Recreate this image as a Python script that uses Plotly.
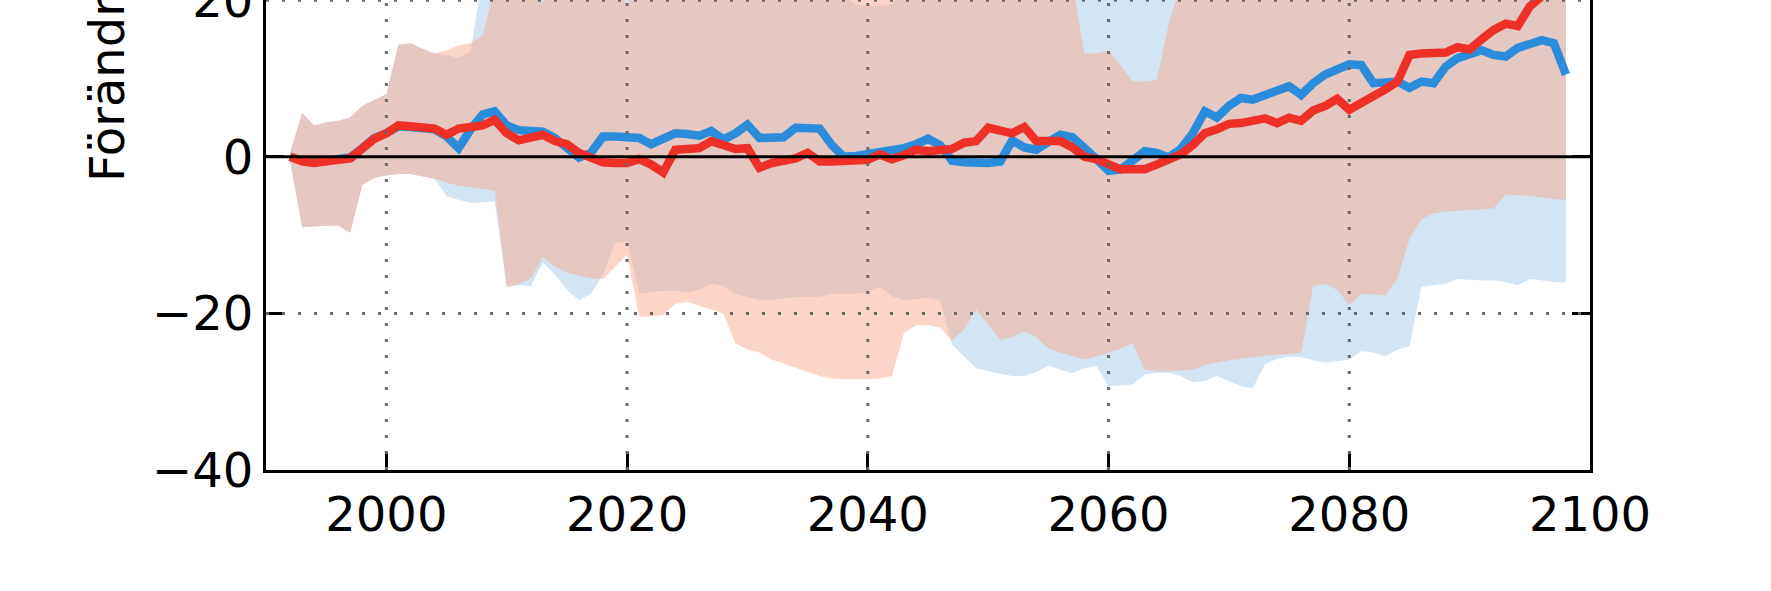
import plotly.graph_objects as go

years = list(range(1992, 2099))

red_mean = [
    0.0, -0.6, -0.8, -0.5, -0.4, -0.2, 1.0, 2.3, 3.0, 4.0,      # 1992-2001
    3.9, 3.8, 3.6, 2.8, 3.6, 3.8, 4.0, 4.7, 3.0, 2.1,           # 2002-2011
    2.5, 2.8, 2.0, 1.6, 0.5, -0.1, -0.7, -0.8, -0.8, -0.3,      # 2012-2021
    -1.0, -2.0, 0.9, 1.0, 1.1, 2.0, 1.5, 1.0, 1.1, -1.4,        # 2022-2031
    -0.8, -0.6, -0.2, 0.5, -0.6, -0.6, -0.6, -0.5, -0.4, 0.3,   # 2032-2041
    -0.3, 0.2, 0.9, 0.7, 0.8, 1.0, 1.8, 2.0, 3.7, 3.3,          # 2042-2051
    3.0, 3.8, 2.0, 2.0, 2.0, 1.2, 0.0, -0.3, -1.0, -1.6,        # 2052-2061
    -1.6, -1.6, -1.0, -0.2, 0.3, 1.5, 3.0, 3.5, 4.2, 4.3,       # 2062-2071
    4.5, 4.9, 4.3, 5.0, 4.6, 5.9, 6.5, 7.4, 6.0, 6.8,           # 2072-2081
    7.8, 8.6, 9.6, 13.0, 13.2, 13.2, 13.3, 14.0, 13.7, 15.0,    # 2082-2091
    16.2, 17.0, 16.7, 19.2, 20.5, 21.0, 21.0,                   # 2092-2098
]

blue_mean = [
    0.0, -0.5, -0.7, -0.5, -0.3, -0.1, 1.1, 2.4, 3.0, 3.9,      # 1992-2001
    3.8, 3.7, 3.5, 2.6, 1.1, 3.5, 5.4, 5.8, 4.0, 3.4,           # 2002-2011
    3.3, 3.2, 2.4, 1.2, -0.1, 0.5, 2.6, 2.6, 2.6, 2.4,          # 2012-2021
    1.6, 2.3, 3.0, 2.9, 2.7, 3.3, 2.2, 3.0, 4.1, 2.4,           # 2022-2031
    2.4, 2.5, 3.7, 3.7, 3.6, 1.5, 0.0, 0.1, 0.3, 0.5,           # 2032-2041
    0.7, 1.1, 1.6, 2.3, 1.5, -0.5, -0.7, -0.8, -0.8, -0.6,      # 2042-2051
    2.1, 1.2, 0.9, 1.9, 2.8, 2.5, 1.2, -0.3, -1.8, -1.6,        # 2052-2061
    -0.5, 0.7, 0.5, -0.1, 1.0, 3.0, 5.8, 5.0, 6.5, 7.5,         # 2062-2071
    7.3, 7.9, 8.5, 9.0, 7.9, 9.4, 10.5, 11.3, 11.8, 11.7,       # 2072-2081
    9.4, 9.5, 9.6, 8.8, 9.6, 9.4, 11.5, 12.6, 13.2, 13.6,       # 2082-2091
    13.0, 12.8, 13.9, 14.3, 14.9, 14.5, 10.5,                   # 2092-2098
]

red_low = [
    -0.5, -9.0, -8.9, -8.8, -8.8, -9.7, -3.6, -2.7, -2.4, -2.2,        # 1992-2001
    -2.2, -2.5, -2.8, -3.3, -3.7, -3.9, -4.1, -4.3, -16.6, -16.3,      # 2002-2011
    -15.5, -12.8, -14.0, -14.8, -15.2, -15.5, -15.6, -14.0, -12.5, -20.4,  # 2012-2021
    -20.4, -20.2, -18.8, -18.5, -19.0, -19.5, -20.0, -23.8, -24.6, -25.0,  # 2022-2031
    -25.9, -26.4, -26.9, -27.5, -28.0, -28.3, -28.4, -28.4, -28.4, -28.3,  # 2032-2041
    -28.0, -22.5, -21.5, -21.5, -21.8, -23.5, -22.0, -19.5, -21.5, -23.4,  # 2042-2051
    -23.0, -22.3, -23.0, -24.5, -25.0, -25.5, -25.9, -25.5, -25.0, -24.5,  # 2052-2061
    -23.8, -27.2, -27.4, -27.4, -27.3, -27.2, -26.6, -26.3, -26.0, -25.8,  # 2062-2071
    -25.6, -25.4, -25.3, -25.2, -25.0, -16.5, -16.2, -17.0, -18.9, -17.5,  # 2072-2081
    -17.6, -17.7, -15.5, -10.5, -8.0, -7.2, -7.0, -6.9, -6.8, -6.7,       # 2082-2091
    -6.6, -4.8, -4.9, -5.0, -5.2, -5.4, -5.5,                           # 2092-2098
]

red_high = [
    0.5, 5.6, 4.0, 4.4, 4.6, 5.0, 6.5, 7.3, 8.0, 14.3,          # 1992-2001
    14.5, 13.8, 13.2, 13.6, 14.2, 14.5, 15.5, 21.5, 24.0, 24.0, # 2002-2011
    23.0, 19.6, 22.0, 23.0, 24.0, 24.0, 23.0, 22.0, 19.4, 23.0, # 2012-2021
    24.0, 25.0, 25.0, 26.0, 26.0, 25.0, 25.0, 24.0, 24.0, 25.0, # 2022-2031
    25.0, 24.0, 24.0, 23.0, 23.0, 24.0, 24.0, 25.0, 25.0, 24.0, # 2032-2041
    24.0, 23.0, 23.0, 24.0, 25.0, 25.0, 24.0, 24.0, 23.0, 23.0, # 2042-2051
    24.0, 24.0, 23.0, 23.0, 22.0, 22.0, 13.2, 13.2, 13.6, 11.7, # 2052-2061
    9.6, 9.6, 9.8, 17.0, 22.0, 23.0, 24.0, 25.0, 25.0, 26.0,    # 2062-2071
    26.0, 27.0, 27.0, 27.0, 28.0, 28.0, 28.0, 29.0, 29.0, 29.0, # 2072-2081
    30.0, 30.0, 31.0, 32.0, 32.0, 33.0, 33.0, 34.0, 34.0, 35.0, # 2082-2091
    35.0, 36.0, 36.0, 37.0, 37.0, 38.0, 38.0,                   # 2092-2098
]

blue_low = [
    -0.5, -9.0, -8.9, -8.8, -8.8, -9.7, -3.6, -2.7, -2.4, -2.2,        # 1992-2001
    -2.2, -2.5, -2.8, -5.0, -5.5, -5.9, -5.8, -5.7, -16.6, -16.4,      # 2002-2011
    -16.5, -13.5, -15.0, -17.0, -18.3, -17.5, -15.0, -11.0, -10.8, -17.5,  # 2012-2021
    -17.3, -17.1, -17.1, -17.3, -17.0, -16.2, -16.5, -17.5, -17.9, -18.3,  # 2022-2031
    -18.3, -18.1, -17.9, -17.9, -17.9, -17.5, -17.5, -17.5, -17.3, -16.6,  # 2032-2041
    -17.8, -18.3, -18.2, -18.0, -18.3, -24.0, -25.5, -27.0, -27.4, -27.7,  # 2042-2051
    -28.0, -28.0, -27.5, -26.7, -27.2, -27.6, -27.0, -26.7, -29.3, -29.2,  # 2052-2061
    -29.1, -27.8, -27.6, -27.6, -28.0, -28.8, -28.6, -28.0, -28.7, -29.3,  # 2062-2071
    -29.5, -26.5, -25.8, -25.5, -25.6, -26.0, -26.3, -26.1, -25.9, -24.8,  # 2072-2081
    -25.0, -25.5, -24.6, -24.2, -16.6, -16.4, -16.2, -15.6, -15.7, -15.8,  # 2082-2091
    -15.8, -16.0, -16.4, -15.6, -15.8, -16.0, -16.1,                   # 2092-2098
]

blue_high = [
    0.5, 5.6, 4.0, 4.4, 4.6, 5.0, 6.5, 7.3, 8.0, 14.3,          # 1992-2001
    14.5, 13.8, 13.2, 13.0, 12.6, 13.5, 23.0, 24.0, 25.0, 25.0, # 2002-2011
    24.0, 24.0, 24.0, 25.0, 25.0, 24.0, 24.0, 23.0, 22.0, 23.0, # 2012-2021
    24.0, 24.0, 25.0, 25.0, 24.0, 24.0, 23.0, 23.0, 23.0, 22.0, # 2022-2031
    22.0, 22.0, 22.0, 22.0, 21.0, 21.0, 20.5, 19.4, 19.2, 19.3, # 2032-2041
    19.5, 21.0, 22.0, 23.0, 24.0, 25.0, 26.0, 26.0, 27.0, 27.0, # 2042-2051
    27.0, 28.0, 28.0, 27.0, 27.0, 26.0, 26.0, 26.0, 25.0, 25.0, # 2052-2061
    25.0, 25.0, 25.0, 25.0, 26.0, 26.0, 27.0, 27.0, 28.0, 28.0, # 2062-2071
    28.0, 29.0, 29.0, 29.0, 30.0, 30.0, 30.0, 31.0, 31.0, 31.0, # 2072-2081
    30.0, 30.0, 30.0, 30.0, 31.0, 31.0, 31.0, 32.0, 32.0, 32.0, # 2082-2091
    32.0, 32.0, 33.0, 33.0, 33.0, 33.0, 33.0,                   # 2092-2098
]

x_ticks = [2000, 2020, 2040, 2060, 2080, 2100]
y_ticks = [-40, -20, 0, 20]
y_label = "Förändring i nederbörd (%)"

RED = "rgb(238,48,38)"
BLUE = "rgb(42,140,218)"
BLUE_FILL = "rgb(211,228,243)"
RED_FILL = "rgba(249,171,145,0.5)"
GRID = "rgb(105,105,105)"
FONT = "DejaVu Sans"

fig = go.Figure()

fig.add_trace(go.Scatter(x=years, y=blue_low, mode="lines", line=dict(width=0),
                         hoverinfo="skip", showlegend=False))
fig.add_trace(go.Scatter(x=years, y=blue_high, mode="lines", line=dict(width=0),
                         fill="tonexty", fillcolor=BLUE_FILL, hoverinfo="skip", showlegend=False))
fig.add_trace(go.Scatter(x=years, y=red_low, mode="lines", line=dict(width=0),
                         hoverinfo="skip", showlegend=False))
fig.add_trace(go.Scatter(x=years, y=red_high, mode="lines", line=dict(width=0),
                         fill="tonexty", fillcolor=RED_FILL, hoverinfo="skip", showlegend=False))

fig.add_trace(go.Scatter(x=years, y=blue_mean, mode="lines",
                         line=dict(color=BLUE, width=8.5), showlegend=False))
fig.add_trace(go.Scatter(x=years, y=red_mean, mode="lines",
                         line=dict(color=RED, width=8.5), showlegend=False))

shapes = []
for xv in x_ticks[:-1]:
    shapes.append(dict(type="line", xref="x", yref="paper", x0=xv, x1=xv, y0=0, y1=1,
                       line=dict(color=GRID, width=3, dash="3px,13px"),
                       layer="above"))
for yv in y_ticks:
    if yv in (-40, 0):
        continue
    shapes.append(dict(type="line", xref="paper", yref="y", x0=0, x1=1, y0=yv, y1=yv,
                       line=dict(color=GRID, width=3, dash="3px,13px"),
                       layer="above"))
shapes.append(dict(type="line", xref="paper", yref="y", x0=0, x1=1, y0=0, y1=0,
                   line=dict(color="black", width=3), layer="above"))

fig.update_layout(
    width=1771, height=591,
    margin=dict(l=266, r=181, t=0, b=121, pad=0, autoexpand=False),
    paper_bgcolor="white", plot_bgcolor="white",
    font=dict(family=FONT, size=48, color="black"),
    shapes=shapes,
    annotations=[dict(text=y_label, textangle=-90, xref="paper", yref="paper",
                      x=-0.1427, y=0.6085, xanchor="left", yanchor="bottom",
                      showarrow=False, font=dict(family=FONT, size=48, color="black"))],
    xaxis=dict(range=[1990, 2100], tickmode="array", tickvals=x_ticks,
               ticktext=[str(v) for v in x_ticks],
               showgrid=False, zeroline=False, showline=True, linecolor="black",
               linewidth=3, mirror=False, ticks="inside", ticklen=18, tickwidth=3,
               tickcolor="black", layer="above traces", automargin=False,
               ticklabeloverflow="allow",
               tickfont=dict(family=FONT, size=48, color="black")),
    yaxis=dict(range=[-40, 20.02], tickmode="array", tickvals=y_ticks,
               ticktext=["\u221240", "\u221220", "0", "20"],
               showgrid=False, zeroline=False, showline=True, linecolor="black",
               linewidth=3, mirror="ticks", ticks="inside", ticklen=18, tickwidth=3,
               tickcolor="black", layer="above traces", automargin=False,
               ticklabeloverflow="allow",
               tickfont=dict(family=FONT, size=48, color="black")),
)

fig.write_html("out.html", config={"displayModeBar": False},
               post_script="document.body.style.margin='0px';")
